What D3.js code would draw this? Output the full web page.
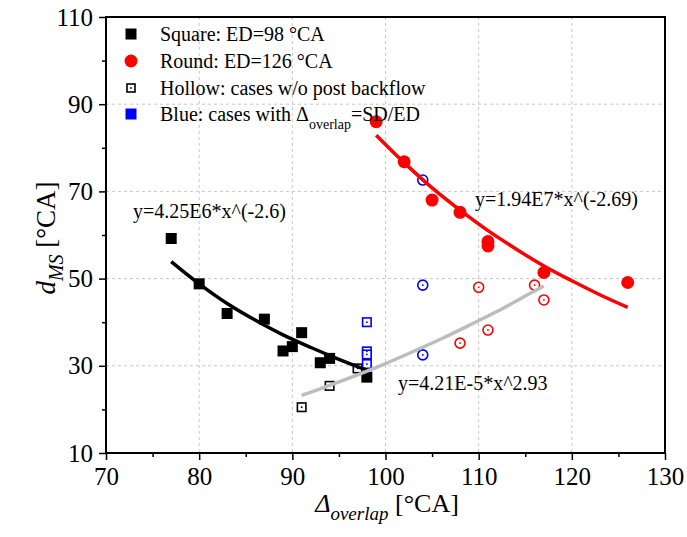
<!DOCTYPE html>
<html>
<head>
<meta charset="utf-8">
<script src="https://cdn.jsdelivr.net/npm/d3@7"></script>
<style>
  body { margin: 0; background: #fff; }
  svg { font-family: "Liberation Serif", "Times New Roman", serif; }
</style>
</head>
<body>
<svg width="687" height="537"></svg>
<script>
// filled black squares (ED=98)
let sqX = [77, 80, 83, 87, 89, 90, 91, 93, 94, 98];
let sqY = [59.2, 48.8, 42.0, 40.7, 33.4, 34.4, 37.6, 30.7, 31.7, 27.4];
// hollow black squares
let sqHolX = [91, 94, 97];
let sqHolY = [20.5, 25.4, 29.4];
// hollow blue squares
let sqBlueX = [98, 98, 98, 98];
let sqBlueY = [40.0, 33.3, 32.6, 30.4];
// filled red circles (ED=126)
let rdX = [99, 102, 105, 108, 111, 111, 117, 126];
let rdY = [86.0, 76.8, 68.0, 65.2, 58.5, 57.5, 51.4, 49.1];
// hollow red circles
let rdHolX = [108, 110, 111, 116, 117];
let rdHolY = [35.2, 48.0, 38.2, 48.5, 45.1];
// hollow blue circles
let rdBlueX = [104, 104, 104];
let rdBlueY = [72.6, 48.5, 32.5];

// fit curves
let fitBlackX = [77, 80, 83, 86, 89, 92, 95, 98];
let fitBlackY = [53.9, 48.8, 44.3, 40.5, 37.1, 34.2, 31.5, 29.0];
let fitRedX = [99, 102, 105, 108, 111, 114, 117, 120, 123, 126];
let fitRedY = [82.9, 76.6, 70.8, 65.7, 61.0, 56.8, 52.9, 49.5, 46.3, 43.4];
let fitGrayX = [91, 94, 97, 100, 103, 106, 109, 112, 115, 117];
let fitGrayY = [23.2, 25.5, 27.9, 30.5, 33.3, 36.2, 39.3, 42.5, 46.0, 48.3];

let xTicks = [70, 80, 90, 100, 110, 120, 130];
let yTicks = [10, 30, 50, 70, 90, 110];
let xMinor = [75, 85, 95, 105, 115, 125];
let yMinor = [20, 40, 60, 80, 100];

const mLeft = 106, mRight = 665, mTop = 17, mBottom = 453;

var svg = d3.select('svg');
var x = d3.scaleLinear().domain([70, 130]).range([mLeft, mRight]);
var y = d3.scaleLinear().domain([10, 110]).range([mBottom, mTop]);

const zip = (a, b) => a.map((v, i) => [v, b[i]]);

// grid
var grid = svg.append('g').attr('stroke', '#c8c8c8').attr('stroke-dasharray', '3,3').attr('stroke-width', 1);
grid.selectAll('.gx').data(xTicks.slice(1, -1)).enter().append('line')
  .attr('x1', d => x(d)).attr('x2', d => x(d)).attr('y1', mTop).attr('y2', mBottom);
grid.selectAll('.gy').data(yTicks.slice(1, -1)).enter().append('line')
  .attr('x1', mLeft).attr('x2', mRight).attr('y1', d => y(d)).attr('y2', d => y(d));

// frame
svg.append('rect').attr('x', mLeft).attr('y', mTop).attr('width', mRight - mLeft).attr('height', mBottom - mTop)
  .attr('fill', 'none').attr('stroke', '#000').attr('stroke-width', 2);

// axes
var xAxis = svg.append('g').attr('transform', 'translate(0,' + mBottom + ')')
  .call(d3.axisBottom(x).tickValues(xTicks).tickSize(7).tickPadding(7).tickFormat(d3.format('d')));
var xAxisMinor = svg.append('g').attr('transform', 'translate(0,' + mBottom + ')')
  .call(d3.axisBottom(x).tickValues(xMinor).tickSize(4).tickFormat(''));
var yAxis = svg.append('g').attr('transform', 'translate(' + mLeft + ',0)')
  .call(d3.axisLeft(y).tickValues(yTicks).tickSize(7).tickPadding(6).tickFormat(d3.format('d')));
var yAxisMinor = svg.append('g').attr('transform', 'translate(' + mLeft + ',0)')
  .call(d3.axisLeft(y).tickValues(yMinor).tickSize(4).tickFormat(''));
[xAxis, xAxisMinor, yAxis, yAxisMinor].forEach(function (a) {
  a.select('.domain').remove();
  a.selectAll('line').attr('stroke-width', 1.5);
  a.selectAll('text').attr('font-size', 25).attr('font-family', '"Liberation Serif", serif').attr('fill', '#000');
});

// markers
function squares(xs, ys, size, fill, stroke) {
  svg.append('g').selectAll('rect').data(zip(xs, ys)).enter().append('rect')
    .attr('x', d => x(d[0]) - size / 2).attr('y', d => y(d[1]) - size / 2)
    .attr('width', size).attr('height', size)
    .attr('fill', fill).attr('stroke', stroke).attr('stroke-width', stroke == 'none' ? 0 : 1.6);
}
function circles(xs, ys, r, fill, stroke) {
  svg.append('g').selectAll('circle').data(zip(xs, ys)).enter().append('circle')
    .attr('cx', d => x(d[0])).attr('cy', d => y(d[1])).attr('r', r)
    .attr('fill', fill).attr('stroke', stroke).attr('stroke-width', stroke == 'none' ? 0 : 1.6);
}
function dots(xs, ys, color) {
  svg.append('g').selectAll('rect').data(zip(xs, ys)).enter().append('rect')
    .attr('x', d => x(d[0]) - 0.8).attr('y', d => y(d[1]) - 0.8)
    .attr('width', 1.6).attr('height', 1.6).attr('fill', color);
}

squares(sqX, sqY, 11, '#000', 'none');
squares(sqHolX, sqHolY, 8.5, '#fff', '#000');
dots(sqHolX, sqHolY, '#000');
squares(sqBlueX, sqBlueY, 8.5, '#fff', '#0000ff');
dots(sqBlueX, sqBlueY, '#0000ff');
circles(rdX, rdY, 6.5, '#ff0000', 'none');
circles(rdHolX, rdHolY, 5, '#fff', '#ff0000');
dots(rdHolX, rdHolY, '#ff0000');
circles(rdBlueX, rdBlueY, 5, '#fff', '#0000ff');
dots(rdBlueX, rdBlueY, '#0000ff');

// fit lines
var line = d3.line().x(d => x(d[0])).y(d => y(d[1])).curve(d3.curveCatmullRom);
svg.append('path').datum(zip(fitBlackX, fitBlackY)).attr('d', line)
  .attr('fill', 'none').attr('stroke', '#000').attr('stroke-width', 3.5);
svg.append('path').datum(zip(fitRedX, fitRedY)).attr('d', line)
  .attr('fill', 'none').attr('stroke', '#ff0000').attr('stroke-width', 3.5);
svg.append('path').datum(zip(fitGrayX, fitGrayY)).attr('d', line)
  .attr('fill', 'none').attr('stroke', '#bdbdbd').attr('stroke-width', 3.5);

// fit equations
var eq = svg.append('g').attr('font-size', 20).attr('fill', '#000');
eq.append('text').attr('x', 133).attr('y', 218).text('y=4.25E6*x^(-2.6)');
eq.append('text').attr('x', 475).attr('y', 206).text('y=1.94E7*x^(-2.69)');
eq.append('text').attr('x', 398).attr('y', 390).text('y=4.21E-5*x^2.93');

// legend
var lg = svg.append('g').attr('font-size', 20);
var rows = [34, 61, 88, 114];
lg.append('rect').attr('x', 125.5).attr('y', rows[0] - 5.5).attr('width', 11).attr('height', 11).attr('fill', '#000');
lg.append('circle').attr('cx', 131).attr('cy', rows[1]).attr('r', 6.5).attr('fill', '#ff0000');
lg.append('rect').attr('x', 127).attr('y', rows[2] - 4).attr('width', 8).attr('height', 8)
  .attr('fill', '#fff').attr('stroke', '#000').attr('stroke-width', 1.6);
lg.append('rect').attr('x', 130.2).attr('y', rows[2] - 0.8).attr('width', 1.6).attr('height', 1.6).attr('fill', '#000');
lg.append('rect').attr('x', 125.5).attr('y', rows[3] - 5.5).attr('width', 11).attr('height', 11).attr('fill', '#0000ff');
lg.append('text').attr('x', 160).attr('y', rows[0] + 6.5).text('Square: ED=98 °CA');
lg.append('text').attr('x', 160).attr('y', rows[1] + 6.5).text('Round: ED=126 °CA');
lg.append('text').attr('x', 160).attr('y', rows[2] + 6.5).text('Hollow: cases w/o post backflow');
var t4 = lg.append('text').attr('x', 160).attr('y', rows[3] + 6.5);
t4.append('tspan').text('Blue: cases with Δ');
t4.append('tspan').attr('font-size', 14).attr('dy', 8).text('overlap');
t4.append('tspan').attr('dy', -8).text('=SD/ED');

// axis titles
var xt = svg.append('text').attr('x', 387).attr('y', 512).attr('text-anchor', 'middle').attr('font-size', 26);
xt.append('tspan').attr('font-style', 'italic').text('Δ');
xt.append('tspan').attr('font-style', 'italic').attr('font-size', 19).attr('dy', 8).text('overlap');
xt.append('tspan').attr('dy', -8).text(' [°CA]');

var yt = svg.append('text').attr('transform', 'translate(55,238) rotate(-90)').attr('text-anchor', 'middle').attr('font-size', 27);
yt.append('tspan').attr('font-style', 'italic').text('d');
yt.append('tspan').attr('font-style', 'italic').attr('font-size', 20).attr('dy', 8).text('MS');
yt.append('tspan').attr('dy', -8).text(' [°CA]');
</script>
</body>
</html>
